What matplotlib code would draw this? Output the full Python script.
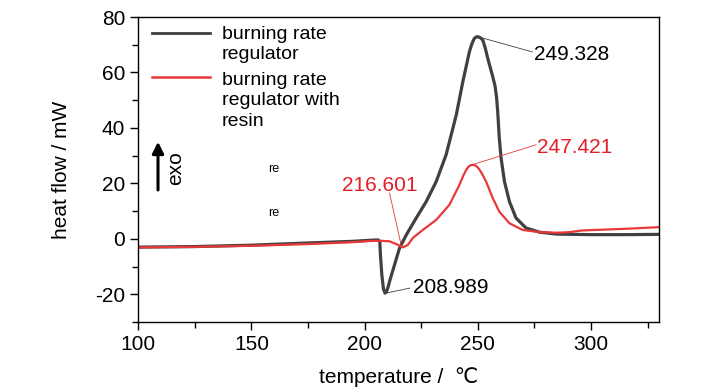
import numpy as np
import matplotlib.pyplot as plt

plt.rcParams['font.family'] = ['Liberation Sans', 'DejaVu Sans']
plt.rcParams['axes.unicode_minus'] = False

# DSC curves
T_brr = [100, 125, 150, 175, 195, 203, 206.0, 206.7, 207.0, 207.6, 208.3, 209.0, 209.6,
         210.3, 211.0, 213.2, 215.4, 218.4, 222.8, 227.2, 231.6, 236.0, 240.5, 243.4,
         246.3, 247.5, 248.5, 249.3, 250.0, 251.0, 252.2, 253.3, 254.4, 256.6, 257.6,
         258.3, 258.8, 259.5, 260.3, 261.8, 264.0, 266.9, 271.3, 277.2, 285, 300, 315, 330]
hf_brr = [-3.0, -2.8, -2.3, -1.5, -0.9, -0.5, -0.4, -1.0, -6.0, -13.0, -18.0, -19.6, -19.2,
          -17.6, -15.4, -9.4, -3.4, 1.4, 7.5, 13.4, 20.6, 30.3, 44.7, 56.7,
          67.5, 70.6, 72.3, 72.8, 72.9, 72.6, 71.7, 68.8, 65.1, 58.5, 55.2,
          51.0, 45.9, 36.3, 29.1, 20.6, 13.4, 7.5, 3.9, 2.4, 1.7, 1.5, 1.5, 1.6]

T_resin = [100, 125, 150, 175, 195, 202.2, 207, 211, 214, 216.9, 219.1, 221.3, 225.7,
           231.6, 237.5, 241.9, 243.5, 244.9, 246.0, 247.0, 247.8, 248.8, 249.8, 250.7,
           252.2, 253.7, 256.6, 259.5, 264.0, 269.8, 277.2, 285, 290.4, 296, 302.2, 315, 330]
hf_resin = [-3.1, -2.9, -2.5, -1.9, -1.2, -0.8, -0.7, -0.9, -1.9, -3.1, -2.2, 0.3, 3.2,
            6.8, 12.3, 19.5, 22.6, 24.9, 26.1, 26.6, 26.7, 26.5, 25.9, 25.0,
            23.0, 20.6, 14.7, 9.8, 5.6, 3.2, 2.4, 2.2, 2.4, 3.0, 3.2, 3.6, 4.2]

labels = ['burning rate\nregulator', 'burning rate\nregulator with\nresin']
colors = ['#404040', '#e8383a']
text_colors = ['black', '#e41e26']

# peak annotations: text, point, line end, text position, series index
peaks = [
    ('249.328', (250.0, 72.9), (274.1, 67.4), (275.0, 66.3), 0),
    ('247.421', (247.5, 26.7), (275.7, 33.9), (276.0, 32.8), 1),
    ('216.601', (216.3, -2.8), (211.0, 16.5), (206.8, 19.1), 1),
    ('208.989', (209.3, -19.6), (219.9, -17.8), (221.2, -17.7), 0),
]

fig = plt.figure(figsize=(7.28, 3.9), dpi=100)
ax = fig.add_axes([0.19, 0.1744, 0.715, 0.782])

ax.plot(T_brr, hf_brr, color=colors[0], lw=2.3, solid_joinstyle='round')
ax.plot(T_resin, hf_resin, color=colors[1], lw=1.6, solid_joinstyle='round')

for txt, p, q, tp, k in peaks:
    ax.plot([p[0], q[0]], [p[1], q[1]], color=colors[k], lw=0.6)
    ha = 'center' if txt == '216.601' else 'left'
    ax.text(tp[0], tp[1], txt, color=text_colors[k], fontsize=15, ha=ha, va='center')

# legend drawn by hand so the handles sit on the first text line
for i, (lab, c) in enumerate(zip(labels, colors)):
    y = [0.948, 0.803][i]
    ax.plot([0.027, 0.138], [y, y], color=c, lw=[2.0, 1.8][i], transform=ax.transAxes)
    ax.text(0.161, [0.971, 0.82][i], lab, transform=ax.transAxes, fontsize=14,
            va='top', ha='left', linespacing=1.27)

# exo arrow
ax.annotate('', xy=(108.7, 36.0), xytext=(108.7, 16.6),
            arrowprops=dict(arrowstyle='-|>', color='k', lw=2.2, mutation_scale=17))
ax.text(116.6, 25.6, 'exo', rotation=90, fontsize=15, ha='center', va='center')
ax.text(160, 25.2, 're', fontsize=9, ha='center', va='center')
ax.text(160, 9.4, 're', fontsize=9, ha='center', va='center')

ax.set_xlim(100, 330)
ax.set_ylim(-30, 80)
ax.set_xticks([100, 150, 200, 250, 300])
ax.set_xticks(np.arange(125, 330, 50), minor=True)
ax.set_yticks([-20, 0, 20, 40, 60, 80])
ax.set_yticks(np.arange(-30, 80, 20), minor=True)
ax.tick_params(which='major', direction='out', length=6, width=1, labelsize=15)
ax.tick_params(which='minor', direction='out', length=4, width=1)
for s in ax.spines.values():
    s.set_linewidth(1)

ax.set_xlabel('temperature /  \u2103', fontsize=15, labelpad=9)
ax.set_ylabel('heat flow / mW', fontsize=15, labelpad=17)

fig.savefig('out.png', dpi=100)
